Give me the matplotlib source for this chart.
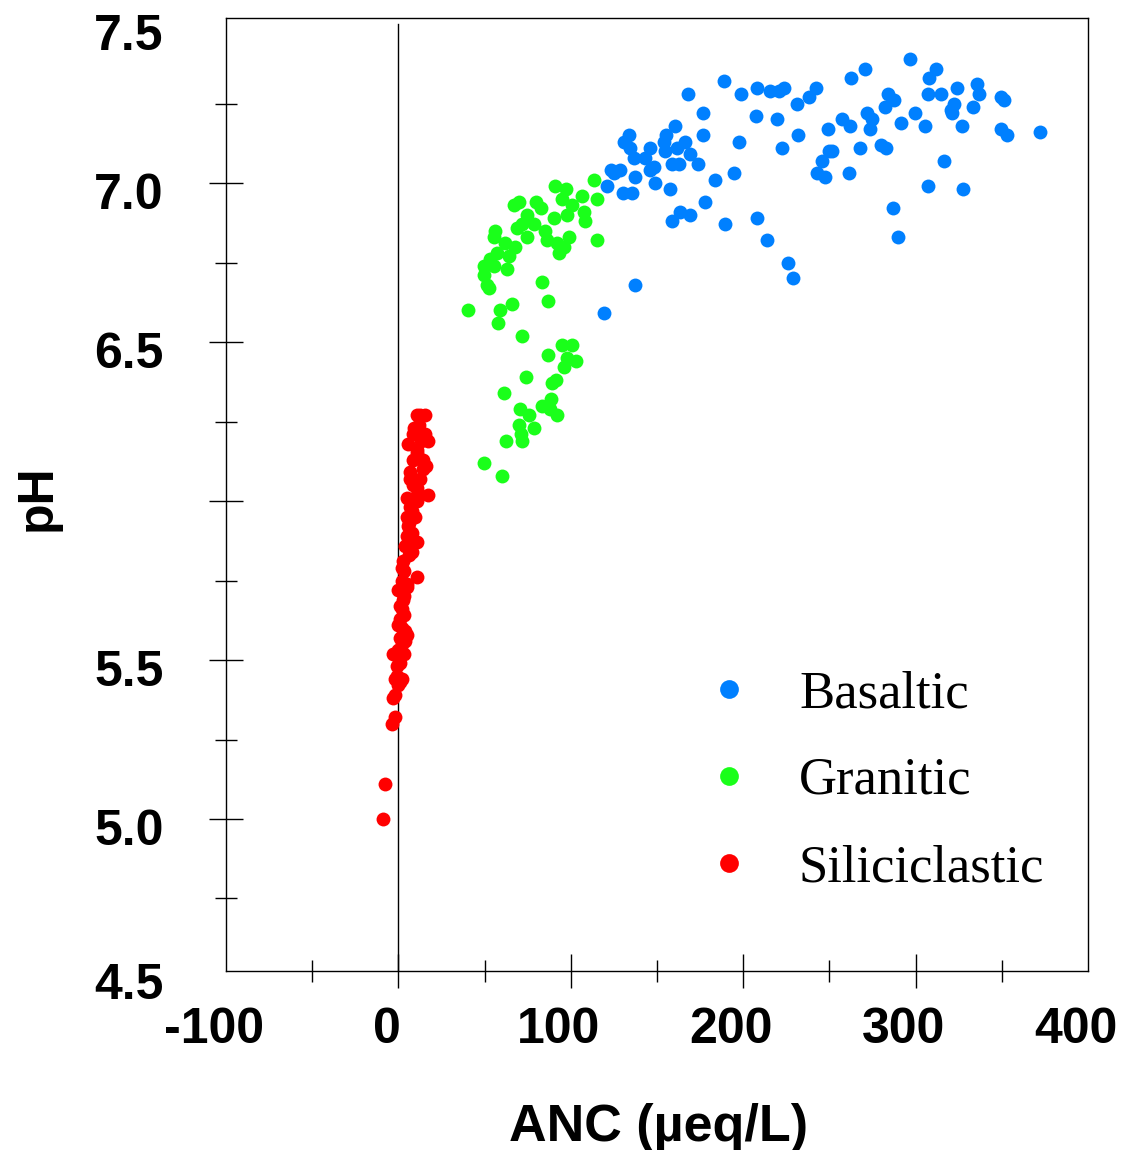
import numpy as np
import matplotlib.pyplot as plt
from matplotlib.lines import Line2D
from matplotlib.transforms import ScaledTranslation

plt.rcParams['font.family'] = 'Liberation Sans'

# stream chemistry by bedrock type
basaltic_anc = [188.7, 167.8, 199.0, 208.1, 215.4, 220.9, 223.6, 242.0, 238.1, 231.4,
                176.4, 207.7, 219.7, 160.7, 176.4, 197.3, 231.9, 222.6, 133.6, 130.7,
                134.6, 155.5, 153.9, 146.2, 166.5, 154.9, 161.7, 169.4, 136.5, 143.3,
                173.9, 158.8, 162.6, 148.1, 123.5, 128.7, 124.9, 137.0, 146.2, 121.0,
                149.1, 130.3, 135.5, 157.8, 183.9, 194.8, 178.1, 163.2, 158.8, 169.4,
                189.7, 208.1, 213.9, 225.9, 228.8, 137.5, 119.0,
                296.6, 270.4, 262.7, 311.7, 307.8, 284.0, 287.5, 282.1, 307.2, 315.0,
                324.3, 335.5, 336.8, 349.4, 351.3, 322.3, 320.4, 321.4, 333.3, 327.2,
                299.7, 305.3, 291.8, 271.6, 274.5, 273.5, 257.5, 261.7, 249.1, 249.7,
                251.7, 245.5, 243.0, 247.2, 261.3, 267.7, 279.7, 282.6, 349.4, 353.3,
                371.9, 316.5, 307.2, 327.5, 287.1, 290.0]
basaltic_ph = [7.32, 7.28, 7.28, 7.30, 7.29, 7.29, 7.30, 7.30, 7.27, 7.25,
               7.22, 7.21, 7.20, 7.18, 7.15, 7.13, 7.15, 7.11, 7.15, 7.13,
               7.11, 7.15, 7.13, 7.11, 7.13, 7.10, 7.11, 7.09, 7.08, 7.08,
               7.06, 7.06, 7.06, 7.05, 7.04, 7.04, 7.03, 7.02, 7.04, 6.99,
               7.00, 6.97, 6.97, 6.98, 7.01, 7.03, 6.94, 6.91, 6.88, 6.90,
               6.87, 6.89, 6.82, 6.75, 6.70, 6.68, 6.59,
               7.39, 7.36, 7.33, 7.36, 7.33, 7.28, 7.26, 7.24, 7.28, 7.28,
               7.30, 7.31, 7.28, 7.27, 7.26, 7.25, 7.23, 7.22, 7.24, 7.18,
               7.22, 7.18, 7.19, 7.22, 7.20, 7.17, 7.20, 7.18, 7.17, 7.10,
               7.10, 7.07, 7.03, 7.02, 7.03, 7.11, 7.12, 7.11, 7.17, 7.15,
               7.16, 7.07, 6.99, 6.98, 6.92, 6.83]

granitic_anc = [91.0, 97.4, 106.5, 113.6, 115.2, 70.1, 66.8, 80.0, 82.7, 94.9,
                100.7, 107.4, 108.4, 97.8, 90.0, 74.6, 71.7, 78.4, 56.2, 68.8,
                85.2, 98.7, 55.2, 74.6, 86.2, 92.0, 95.8, 92.9, 67.8, 62.0,
                57.1, 63.9, 53.3, 49.4, 55.2, 62.9, 49.4, 51.3, 52.3, 115.2,
                83.3, 86.5, 65.9, 58.7, 40.1, 57.7,
                71.7, 94.9, 100.7, 86.5, 97.8, 103.2, 96.2, 74.2, 91.6, 89.1,
                61.0, 88.5, 83.3, 70.7, 88.1, 92.0, 75.5, 69.7, 78.4, 71.1,
                62.5, 71.7, 49.5, 60.0]
granitic_ph = [6.99, 6.98, 6.96, 7.01, 6.95, 6.94, 6.93, 6.94, 6.92, 6.95,
               6.93, 6.91, 6.88, 6.90, 6.89, 6.90, 6.87, 6.87, 6.85, 6.86,
               6.85, 6.83, 6.83, 6.83, 6.82, 6.81, 6.80, 6.78, 6.80, 6.81,
               6.78, 6.77, 6.76, 6.74, 6.74, 6.73, 6.71, 6.68, 6.67, 6.82,
               6.69, 6.63, 6.62, 6.60, 6.60, 6.56,
               6.52, 6.49, 6.49, 6.46, 6.45, 6.44, 6.42, 6.39, 6.38, 6.37,
               6.34, 6.32, 6.30, 6.29, 6.29, 6.27, 6.27, 6.24, 6.23, 6.21,
               6.19, 6.19, 6.12, 6.08]

siliciclastic_anc = [12.6, 10.7, 15.5, 8.4, 15.5, 5.8, 17.4, 10.7, 14.5, 8.7,
                     14.5, 6.8, 12.6, 8.7, 17.4, 4.9, 10.7, 10.7, 6.8, 4.9,
                     9.7, 5.8, 4.9, 10.7, 7.8, 2.9, 2.0, 10.7, 2.0, 4.9,
                     0.0, 2.9, 2.0, 1.0, 0.0, 4.9, 1.0, 2.0, -2.9, 0.0,
                     -0.9, 2.0, -1.9, 0.0, -2.9, -1.9, -3.8, -7.7, -8.7,
                     12.0, 9.0, 13.0, 11.0, 16.0, 7.0, 12.0, 9.0, 8.0, 6.0,
                     8.0, 4.0, 6.0, 3.0, 5.0, 3.0, 1.0, 3.0, 2.0, 4.0,
                     0.0, 1.0, -1.0, 1.0, -2.0, 4.0, 3.0]
siliciclastic_ph = [6.27, 6.27, 6.27, 6.21, 6.21, 6.18, 6.19, 6.16, 6.13, 6.13,
                    6.10, 6.09, 6.07, 6.05, 6.02, 6.01, 6.04, 6.00, 5.98, 5.95,
                    5.95, 5.92, 5.89, 5.87, 5.84, 5.81, 5.79, 5.76, 5.75, 5.73,
                    5.72, 5.69, 5.66, 5.63, 5.61, 5.58, 5.57, 5.55, 5.52, 5.51,
                    5.48, 5.44, 5.44, 5.42, 5.38, 5.32, 5.30, 5.11, 5.00,
                    6.24, 6.23, 6.19, 6.15, 6.11, 6.07, 6.02, 6.01, 5.97, 5.93,
                    5.90, 5.86, 5.83, 5.78, 5.74, 5.70, 5.67, 5.64, 5.60, 5.56,
                    5.53, 5.49, 5.45, 5.43, 5.39, 5.59, 5.52]

groups = ['Basaltic', 'Granitic', 'Siliciclastic']
colors = {'Basaltic': '#0080ff', 'Granitic': '#1aff1a', 'Siliciclastic': '#ff0000'}

W, H = 1129, 1150
fig = plt.figure(figsize=(W / 100, H / 100), dpi=100)
ax = fig.add_axes([226 / W, 1 - 971 / H, (1088 - 226) / W, (971 - 18) / H])

ax.set_xlim(-100, 400)
ax.set_ylim(4.522, 7.519)

# zero ANC line
ax.axvline(0, ymax=(7.5 - 4.522) / (7.519 - 4.522), color='black', lw=1.0, zorder=1)

ax.scatter(siliciclastic_anc, siliciclastic_ph, s=100, color=colors['Siliciclastic'], linewidths=0, zorder=3)
ax.scatter(granitic_anc, granitic_ph, s=100, color=colors['Granitic'], linewidths=0, zorder=3)
ax.scatter(basaltic_anc, basaltic_ph, s=100, color=colors['Basaltic'], linewidths=0, zorder=3)

for sp in ax.spines.values():
    sp.set_linewidth(1.0)

xticks = [-100, 0, 100, 200, 300, 400]
yticks = [5.0, 5.5, 6.0, 6.5, 7.0, 7.5]
ylabels = ['5.0', '5.5', '', '6.5', '7.0', '7.5']
ax.set_xticks(xticks)
ax.set_xticklabels([str(v) for v in xticks])
ax.set_xticks(np.arange(-50, 400, 100), minor=True)
ax.set_yticks(yticks)
ax.set_yticklabels(ylabels)
ax.set_yticks(np.arange(4.75, 7.3, 0.5), minor=True)

ax.tick_params(which='major', direction='inout', length=24, width=1.0, labelsize=36)
ax.tick_params(which='minor', direction='inout', length=16.5, width=1.0)
ax.tick_params(axis='y', which='major', pad=33)
ax.tick_params(axis='x', which='major', pad=14)

xt = ax.xaxis.get_major_ticks()
xt[0].tick1line.set_visible(False)
xt[-1].tick1line.set_visible(False)
ax.yaxis.get_major_ticks()[-1].tick1line.set_visible(False)

for lbl in ax.get_xticklabels():
    lbl.set_fontweight('bold')
    lbl.set_transform(lbl.get_transform() + ScaledTranslation(-12 / 100, 0, fig.dpi_scale_trans))
for lbl in ax.get_yticklabels():
    lbl.set_fontweight('bold')
    lbl.set_transform(lbl.get_transform() + ScaledTranslation(0, -8 / 100, fig.dpi_scale_trans))

# bottom label sits just below the frame
ref = ax.get_yticklabels()[0]
ax.text(0, 4.5, '4.5', transform=ref.get_transform(), ha='right', va='center',
        fontsize=36, fontweight='bold')

fig.text(38 / W, 1 - 498 / H, 'pH', rotation=90, ha='center', va='center',
         fontsize=36, fontweight='bold')
fig.text(659 / W, 1 - 1141 / H, 'ANC (µeq/L)', ha='center', va='baseline',
         fontsize=37.5, fontweight='bold')

# legend
for i, g in enumerate(groups):
    yc = 689 + 87 * i
    fig.add_artist(Line2D([729 / W], [1 - yc / H], marker='o', ms=13.5, ls='',
                          color=colors[g], markeredgewidth=0, transform=fig.transFigure))
    fig.text(799 / W, 1 - (yc + 18) / H, g, fontsize=38, family='Liberation Serif',
             va='baseline', ha='left')

fig.savefig('out.png', dpi=100)
